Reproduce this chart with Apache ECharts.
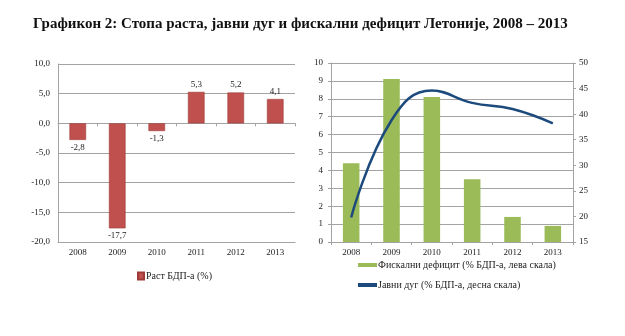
<!DOCTYPE html>
<html><head><meta charset="utf-8">
<script src="https://cdn.jsdelivr.net/npm/echarts@6/dist/echarts.min.js"></script>
<style>html,body{margin:0;padding:0;background:#fff}#c{width:625px;height:336px}</style>
</head><body><div id="c"></div>
<script>
const years = ['2008', '2009', '2010', '2011', '2012', '2013'];
const growth = [-2.8, -17.7, -1.3, 5.3, 5.2, 4.1];
const deficit = [4.4, 9.1, 8.1, 3.5, 1.4, 0.9];
const debt = [19.8, 38.8, 44.6, 42.2, 41.0, 38.2];
const titleText = 'Графикон 2: Стопа раста, јавни дуг и фискални дефицит Летоније, 2008 – 2013';
const growthName = 'Раст БДП-а (%)';
const deficitName = 'Фискални дефицит (% БДП-а, лева скала)';
const debtName = 'Јавни дуг (% БДП-а, десна скала)';

const serif = 'Liberation Serif';
const comma = v => v.toFixed(1).replace('.', ',');
const gridLine = { show: true, lineStyle: { color: '#a3a3a3', width: 1 } };
const axisTxt = { fontFamily: serif, fontSize: 9, color: '#222' };

const chart = echarts.init(document.getElementById('c'), null, { renderer: 'canvas' });
chart.setOption({
  animation: false,
  backgroundColor: '#fff',
  title: {
    text: titleText, left: 33, top: 17, padding: 0,
    textStyle: { fontFamily: serif, fontWeight: 'bold', fontSize: 15, color: '#111' }
  },
  legend: [
    {
      data: [growthName], left: 137, top: 271, padding: 0,
      icon: 'rect', itemWidth: 6, itemHeight: 7, itemGap: 2,
      textStyle: { fontFamily: serif, fontSize: 10, color: '#222', padding: [0, 0, 0, -3] }
    },
    {
      data: [deficitName, debtName], left: 358, top: 260, padding: 0, orient: 'vertical',
      icon: 'rect', itemWidth: 19, itemHeight: 4, itemGap: 10,
      textStyle: { fontFamily: serif, fontSize: 10, color: '#222', padding: [0, 0, 0, -4] }
    }
  ],
  grid: [
    { left: 58, top: 64, width: 237, height: 178 },
    { left: 331, top: 63, width: 242, height: 179 }
  ],
  xAxis: [
    {
      type: 'category', data: years, gridIndex: 0,
      axisLine: { onZero: false, lineStyle: { color: '#a3a3a3' } },
      axisTick: { show: false }, axisLabel: Object.assign({ margin: 6 }, axisTxt)
    },
    {
      type: 'category', data: years, gridIndex: 0, position: 'bottom',
      axisLine: { onZero: true, lineStyle: { color: '#a3a3a3' } },
      axisTick: { show: true, length: 3, lineStyle: { color: '#a3a3a3' } },
      axisLabel: { show: false }
    },
    {
      type: 'category', data: years, gridIndex: 1,
      axisLine: { lineStyle: { color: '#a3a3a3' } },
      axisTick: { show: true, length: 3, lineStyle: { color: '#a3a3a3' } },
      axisLabel: Object.assign({ margin: 6 }, axisTxt)
    }
  ],
  yAxis: [
    {
      type: 'value', gridIndex: 0, min: -20, max: 10, interval: 5,
      axisLine: { show: true, lineStyle: { color: '#a3a3a3' } },
      axisTick: { show: false }, splitLine: gridLine,
      axisLabel: Object.assign({ margin: 8, formatter: comma }, axisTxt)
    },
    {
      type: 'value', gridIndex: 1, min: 0, max: 10, interval: 1,
      axisLine: { show: true, lineStyle: { color: '#a3a3a3' } },
      axisTick: { show: true, length: 3, lineStyle: { color: '#a3a3a3' } },
      splitLine: gridLine,
      axisLabel: Object.assign({ margin: 8 }, axisTxt)
    },
    {
      type: 'value', gridIndex: 1, min: 15, max: 50, interval: 5, position: 'right',
      axisLine: { show: true, lineStyle: { color: '#a3a3a3' } },
      axisTick: { show: true, length: 3, lineStyle: { color: '#a3a3a3' } },
      splitLine: { show: false },
      axisLabel: Object.assign({ margin: 6 }, axisTxt)
    }
  ],
  series: [
    {
      name: growthName, type: 'bar', xAxisIndex: 0, yAxisIndex: 0, barWidth: '42%',
      itemStyle: { color: '#c0504d', borderColor: '#9e3a37', borderWidth: 0.6 },
      data: growth.map(v => ({ value: v, label: { position: v < 0 ? 'bottom' : 'top' } })),
      label: { show: true, distance: 3, formatter: p => comma(p.value), fontFamily: serif, fontSize: 9, color: '#222' }
    },
    {
      name: deficitName, type: 'bar', xAxisIndex: 2, yAxisIndex: 1, barWidth: '41%',
      itemStyle: { color: '#9bbb59' }, data: deficit
    },
    {
      name: debtName, type: 'line', xAxisIndex: 2, yAxisIndex: 2, smooth: 0.45,
      symbol: 'none', lineStyle: { color: '#1d4a7c', width: 2.5 }, itemStyle: { color: '#1d4a7c' },
      data: debt
    }
  ]
});
</script></body></html>
